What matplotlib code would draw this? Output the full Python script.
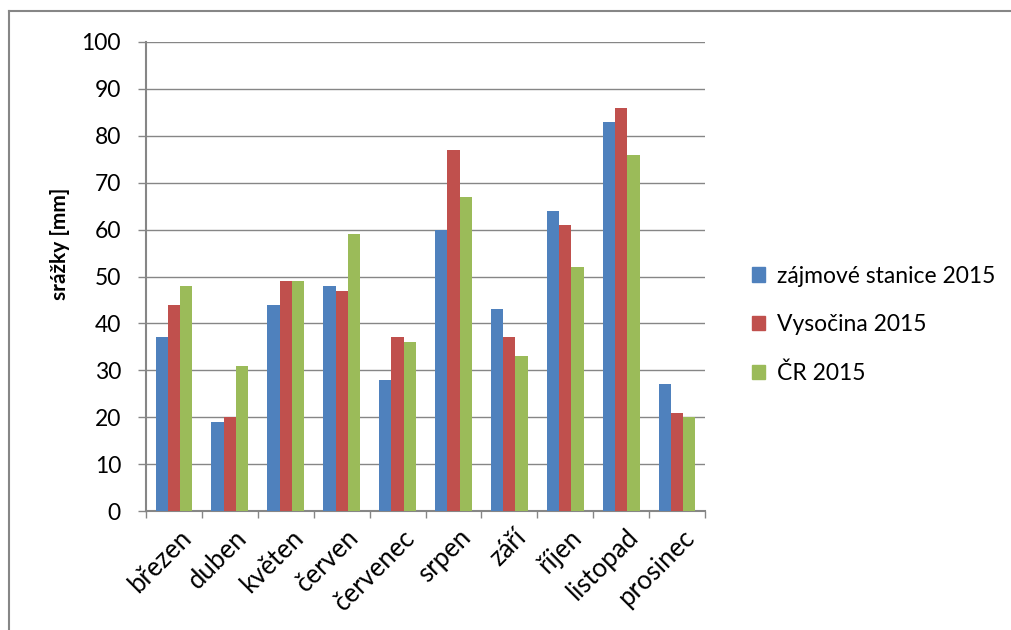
import matplotlib
matplotlib.use("Agg")
import matplotlib.pyplot as plt
import numpy as np
from matplotlib.lines import Line2D
from matplotlib.patches import Patch

months = ["březen", "duben", "květen", "červen", "červenec",
          "srpen", "září", "říjen", "listopad", "prosinec"]
series_names = ["zájmové stanice 2015", "Vysočina 2015", "ČR 2015"]
stanice = [37, 19, 44, 48, 28, 60, 43, 64, 83, 27]
vysocina = [44, 20, 49, 47, 37, 77, 37, 61, 86, 21]
cr = [48, 31, 49, 59, 36, 67, 33, 52, 76, 20]
y_ticks = [0, 10, 20, 30, 40, 50, 60, 70, 80, 90, 100]

colors = ["#4F81BD", "#C0504D", "#9BBB59"]
grid_c = "#868686"

plt.rcParams["font.family"] = ["Lato", "DejaVu Sans"]

fig = plt.figure(figsize=(10.11, 6.3), dpi=100)
ax = fig.add_axes([146 / 1011, 1 - 511 / 630, (705 - 146) / 1011, (511 - 42) / 630])

x = np.arange(len(months))
w = 0.22
for i, vals in enumerate([stanice, vysocina, cr]):
    ax.bar(x + (i - 1) * w, vals, width=w, color=colors[i], label=series_names[i], zorder=3)

ax.set_xlim(-0.5, len(months) - 0.5)
ax.set_ylim(0, 100)
ax.set_yticks(y_ticks)
ax.set_yticklabels([str(v) for v in y_ticks], fontsize=16.5)
ax.yaxis.grid(True, color=grid_c, linewidth=1.0, zorder=0)
ax.set_axisbelow(True)

for s in ["top", "right"]:
    ax.spines[s].set_visible(False)
for s in ["left", "bottom"]:
    ax.spines[s].set_color(grid_c)
    ax.spines[s].set_linewidth(1.5)

ax.tick_params(axis="y", direction="out", length=6, color=grid_c, width=1, pad=12)
ax.set_xticks(np.arange(len(months) + 1) - 0.5, minor=False)
ax.set_xticklabels([""] * (len(months) + 1))
ax.tick_params(axis="x", which="major", direction="out", length=5, color=grid_c, width=1)
ax.set_xticks(x + 0.08, minor=True)
ax.set_xticklabels(months, minor=True, rotation=45, ha="right",
                   rotation_mode="anchor", fontsize=18.5)
ax.tick_params(axis="x", which="minor", length=0, pad=10)

fig.text(60 / 1011, 1 - 244 / 630, "srážky [mm]", rotation=90, fontsize=15,
         fontweight="bold", ha="center", va="center")

leg = fig.legend(handles=[Patch(color=c) for c in colors], labels=series_names,
                 loc="center left", bbox_to_anchor=(731 / 1011, 1 - 325 / 630),
                 frameon=False, fontsize=16.5, handlelength=0.6, handleheight=0.6,
                 handletextpad=0.5, labelspacing=1.2)

# outer chart border
fig.add_artist(Line2D([9 / 1011, 9 / 1011], [0, 1 - 11 / 630], color=grid_c,
                      linewidth=1.5, transform=fig.transFigure))
fig.add_artist(Line2D([9 / 1011, 1], [1 - 11 / 630, 1 - 11 / 630], color=grid_c,
                      linewidth=1.5, transform=fig.transFigure))

fig.savefig("out.png", dpi=100, facecolor="white")
